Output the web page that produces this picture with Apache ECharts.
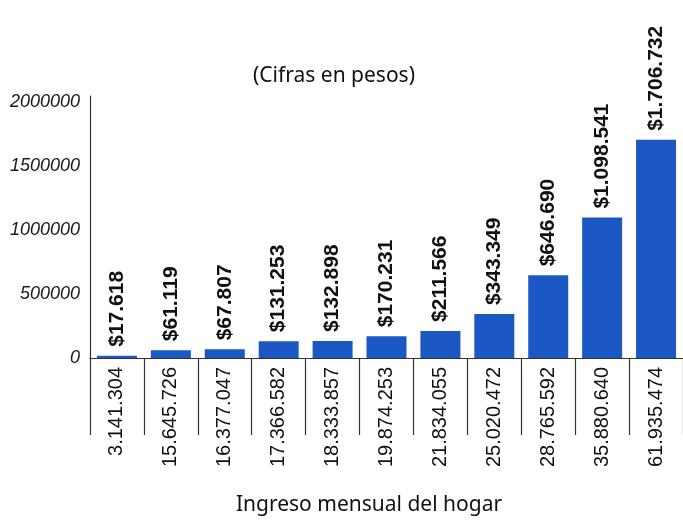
<!DOCTYPE html>
<html>
<head>
<meta charset="utf-8">
<script src="https://cdn.jsdelivr.net/npm/echarts@6/dist/echarts.min.js"></script>
<style>
  html, body { margin: 0; padding: 0; background: #fff; }
  #chart { width: 683px; height: 521px; }
</style>
</head>
<body>
<div id="chart"></div>
<script>
// ingreso mensual del hogar (categorias)
var categorias = ['3.141.304', '15.645.726', '16.377.047', '17.366.582', '18.333.857',
  '19.874.253', '21.834.055', '25.020.472', '28.765.592', '35.880.640', '61.935.474'];
// valores en pesos
var valores = [17618, 61119, 67807, 131253, 132898, 170231, 211566, 343349, 646690, 1098541, 1706732];
var etiquetasValor = ['$17.618', '$61.119', '$67.807', '$131.253', '$132.898', '$170.231',
  '$211.566', '$343.349', '$646.690', '$1.098.541', '$1.706.732'];

var chart = echarts.init(document.getElementById('chart'));
chart.setOption({
  animation: false,
  backgroundColor: '#fff',
  title: [{
    text: '(Cifras en pesos)',
    left: 329,
    top: 61,
    textAlign: 'center',
    textStyle: { fontFamily: 'Noto Sans', fontWeight: 'normal', fontSize: 21, color: '#111' }
  }, {
    text: 'Ingreso mensual del hogar',
    left: 364,
    top: 490,
    textAlign: 'center',
    textStyle: { fontFamily: 'Noto Sans', fontWeight: 'normal', fontSize: 21, color: '#111' }
  }],
  grid: { left: 90, right: -1, top: 96, bottom: 163 },
  xAxis: {
    type: 'category',
    data: categorias,
    axisLine: { lineStyle: { color: '#333', width: 1.2 } },
    axisTick: {
      show: true,
      length: 77,
      interval: 0,
      lineStyle: { color: '#333', width: 1.2 }
    },
    axisLabel: {
      rotate: 90,
      margin: 9,
      fontSize: 20,
      fontFamily: 'Liberation Sans',
      color: '#111',
      interval: 0
    }
  },
  yAxis: {
    type: 'value',
    min: 0,
    max: 2050000,
    interval: 500000,
    splitLine: { show: false },
    axisTick: { show: false },
    axisLine: { show: true, lineStyle: { color: '#333', width: 1.2 } },
    axisLabel: {
      showMaxLabel: false,
      margin: 10,
      fontSize: 18,
      fontStyle: 'italic',
      fontFamily: 'Liberation Sans',
      color: '#1a1a1a',
      formatter: function (v) { return String(v); }
    }
  },
  series: [{
    type: 'bar',
    data: valores,
    barWidth: 40,
    itemStyle: { color: '#1b58c4' },
    label: {
      show: true,
      position: 'top',
      rotate: 90,
      align: 'left',
      verticalAlign: 'middle',
      distance: 9,
      fontSize: 21,
      fontWeight: 'bold',
      fontFamily: 'Liberation Sans',
      color: '#111',
      formatter: function (p) { return etiquetasValor[p.dataIndex]; }
    }
  }]
});
</script>
</body>
</html>
